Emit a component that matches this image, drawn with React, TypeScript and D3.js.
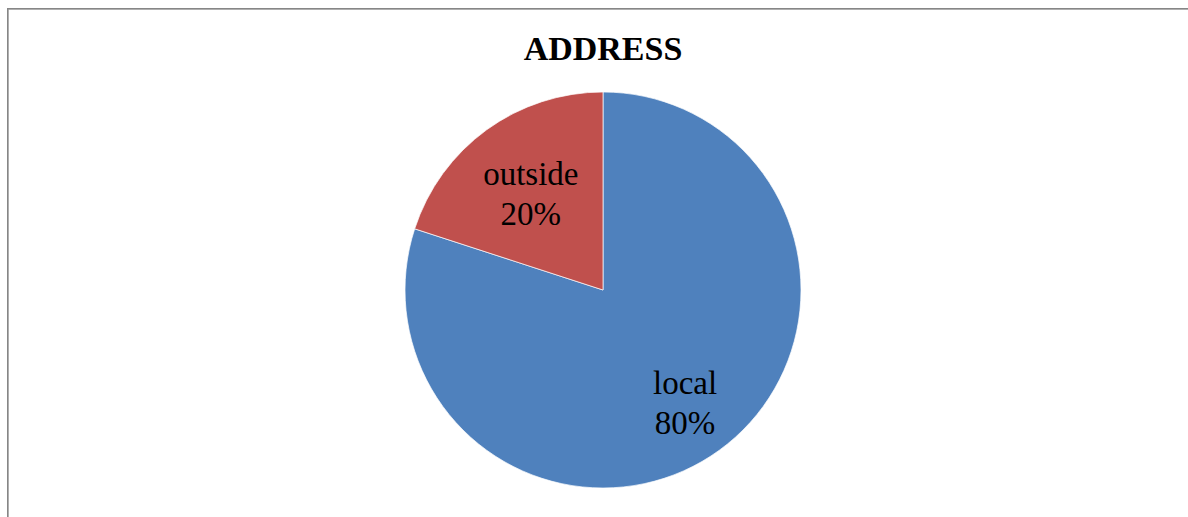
import React, { useEffect, useRef } from "react";
import * as d3 from "d3";

const categories = ["local", "outside"];
const values = [80, 20];
const percentLabels = ["80%", "20%"];
const title = "ADDRESS";

const colors: Record<string, string> = { local: "#4F81BD", outside: "#C0504D" };
const labelRadiusFactor: Record<string, number> = { local: 0.705, outside: 0.62 };

export default function App() {
  const ref = useRef<SVGSVGElement | null>(null);
  useEffect(() => {
    const svg = d3.select(ref.current);
    svg.selectAll("*").remove();
    const W = 1188, H = 517;
    const cx = 603, cy = 290, r = 198;

    svg.append("rect").attr("x", 0).attr("y", 0).attr("width", W).attr("height", H).attr("fill", "#fff");
    svg.append("path").attr("d", `M8.5,${H + 10} V9.5 H${W + 10}`).attr("fill", "none").attr("stroke", "#d9d9d9").attr("stroke-width", 1);
    svg.append("path").attr("d", `M7.75,${H + 10} V8.75 H${W + 10}`).attr("fill", "none").attr("stroke", "#868686").attr("stroke-width", 1.5);

    svg.append("text")
      .attr("x", 603).attr("y", 60)
      .attr("text-anchor", "middle")
      .attr("font-family", "'Liberation Serif', 'Times New Roman', serif")
      .attr("font-weight", "bold")
      .attr("font-size", 34)
      .attr("fill", "#000")
      .text(title);

    const data = categories.map((c, i) => ({ cat: c, value: values[i], label: percentLabels[i] }));
    const pie = d3.pie<any>().value((d: any) => d.value).sort(null);
    const arcs = pie(data);
    const arc = d3.arc<any>().innerRadius(0).outerRadius(r);
    const g = svg.append("g").attr("transform", `translate(${cx},${cy})`);
    g.selectAll("path.slice").data(arcs).enter().append("path")
      .attr("class", "slice")
      .attr("d", arc as any)
      .attr("fill", (d: any) => colors[d.data.cat])
      .attr("stroke", "#fff").attr("stroke-width", 0.7);

    arcs.forEach((a: any) => {
      const mid = (a.startAngle + a.endAngle) / 2;
      const lr = r * labelRadiusFactor[a.data.cat];
      const x = lr * Math.sin(mid);
      const y = -lr * Math.cos(mid) + (a.data.cat === "outside" ? 3 : 0);
      const t = g.append("text")
        .attr("text-anchor", "middle")
        .attr("font-family", "'Liberation Serif', 'Times New Roman', serif")
        .attr("font-size", 33)
        .attr("fill", "#000");
      t.append("tspan").attr("x", x).attr("y", y - 9).text(a.data.cat);
      t.append("tspan").attr("x", x).attr("y", y + 31).text(a.data.label);
    });
  }, []);
  return (
    <svg ref={ref} width={1188} height={517} style={{ position: "absolute", left: 0, top: 0, display: "block" }} />
  );
}
